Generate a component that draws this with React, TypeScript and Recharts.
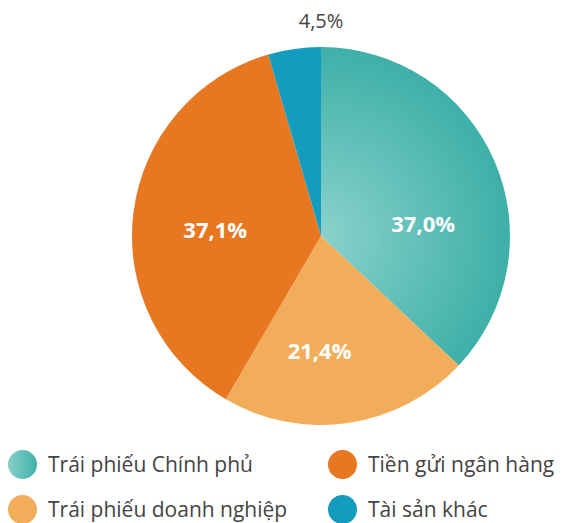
import { Cell, Pie, PieChart } from 'recharts'

const names = ['Trái phiếu Chính phủ', 'Trái phiếu doanh nghiệp', 'Tiền gửi ngân hàng', 'Tài sản khác']
const shares = [37.0, 21.4, 37.1, 4.5]
const colors = ['url(#tealGrad)', '#f1ad5a', '#e87722', '#139cbd']
const legendOrder = [0, 2, 1, 3]

const data = names.map((name, i) => ({ name, value: shares[i] }))

// hand-tuned label placement (angle shift in degrees, radius in px)
const labelTweak = [
  { shift: -16, r: 103 },
  { shift: -9, r: 114 },
  { shift: 3, r: 106 },
  { shift: 0, r: 0 },
]

const RAD = Math.PI / 180
const fmt = (v: number) => v.toFixed(1).replace('.', ',') + '%'

function SliceLabel({ cx, cy, midAngle, index, value }: any) {
  if (index === 3) {
    return (
      <text x={cx} y={20} textAnchor="middle" dominantBaseline="central" fill="#444" fontSize={20} fontFamily="'Open Sans', sans-serif">
        {fmt(value)}
      </text>
    )
  }
  const t = labelTweak[index]
  const a = (midAngle + t.shift) * RAD
  const x = cx + t.r * Math.cos(a)
  const y = cy - t.r * Math.sin(a)
  return (
    <text x={x} y={y} textAnchor="middle" dominantBaseline="central" fill="#fff" fontSize={22} fontWeight={700} fontFamily="'Open Sans', sans-serif">
      {fmt(value)}
    </text>
  )
}

function Legend() {
  return (
    <div style={{ position: 'absolute', left: 8, top: 446, width: 563, display: 'grid', gridTemplateColumns: '320px 243px', rowGap: 9, fontFamily: "'Open Sans', sans-serif", fontSize: 21, color: '#444', whiteSpace: 'nowrap', overflow: 'hidden' }}>
      {legendOrder.map((i) => (
        <div key={names[i]} style={{ display: 'flex', alignItems: 'center', height: 36, lineHeight: '28px' }}>
          <span style={{ width: 29, height: 29, borderRadius: '50%', marginRight: 11, flex: 'none', background: i === 0 ? 'linear-gradient(90deg, #88d0c9, #3fb1aa)' : colors[i] }} />
          {names[i]}
        </div>
      ))}
    </div>
  )
}

export default function App() {
  return (
    <div style={{ position: 'absolute', left: 0, top: 0, width: 571, height: 523, background: '#fff', overflow: 'hidden' }}>
      <PieChart width={571} height={440} margin={{ top: 0, right: 0, bottom: 0, left: 0 }}>
        <defs>
          <radialGradient id="tealGrad" gradientUnits="userSpaceOnUse" cx={321} cy={236} r={189}>
            <stop offset="0%" stopColor="#8ad2cb" />
            <stop offset="100%" stopColor="#3db0a8" />
          </radialGradient>
        </defs>
        <Pie
          data={data}
          dataKey="value"
          cx={321}
          cy={236}
          outerRadius={189}
          startAngle={90}
          endAngle={-270}
          stroke="none"
          label={SliceLabel}
          labelLine={false}
          isAnimationActive={false}
        >
          {data.map((d, i) => (
            <Cell key={d.name} fill={colors[i]} />
          ))}
        </Pie>
      </PieChart>
      <Legend />
    </div>
  )
}
